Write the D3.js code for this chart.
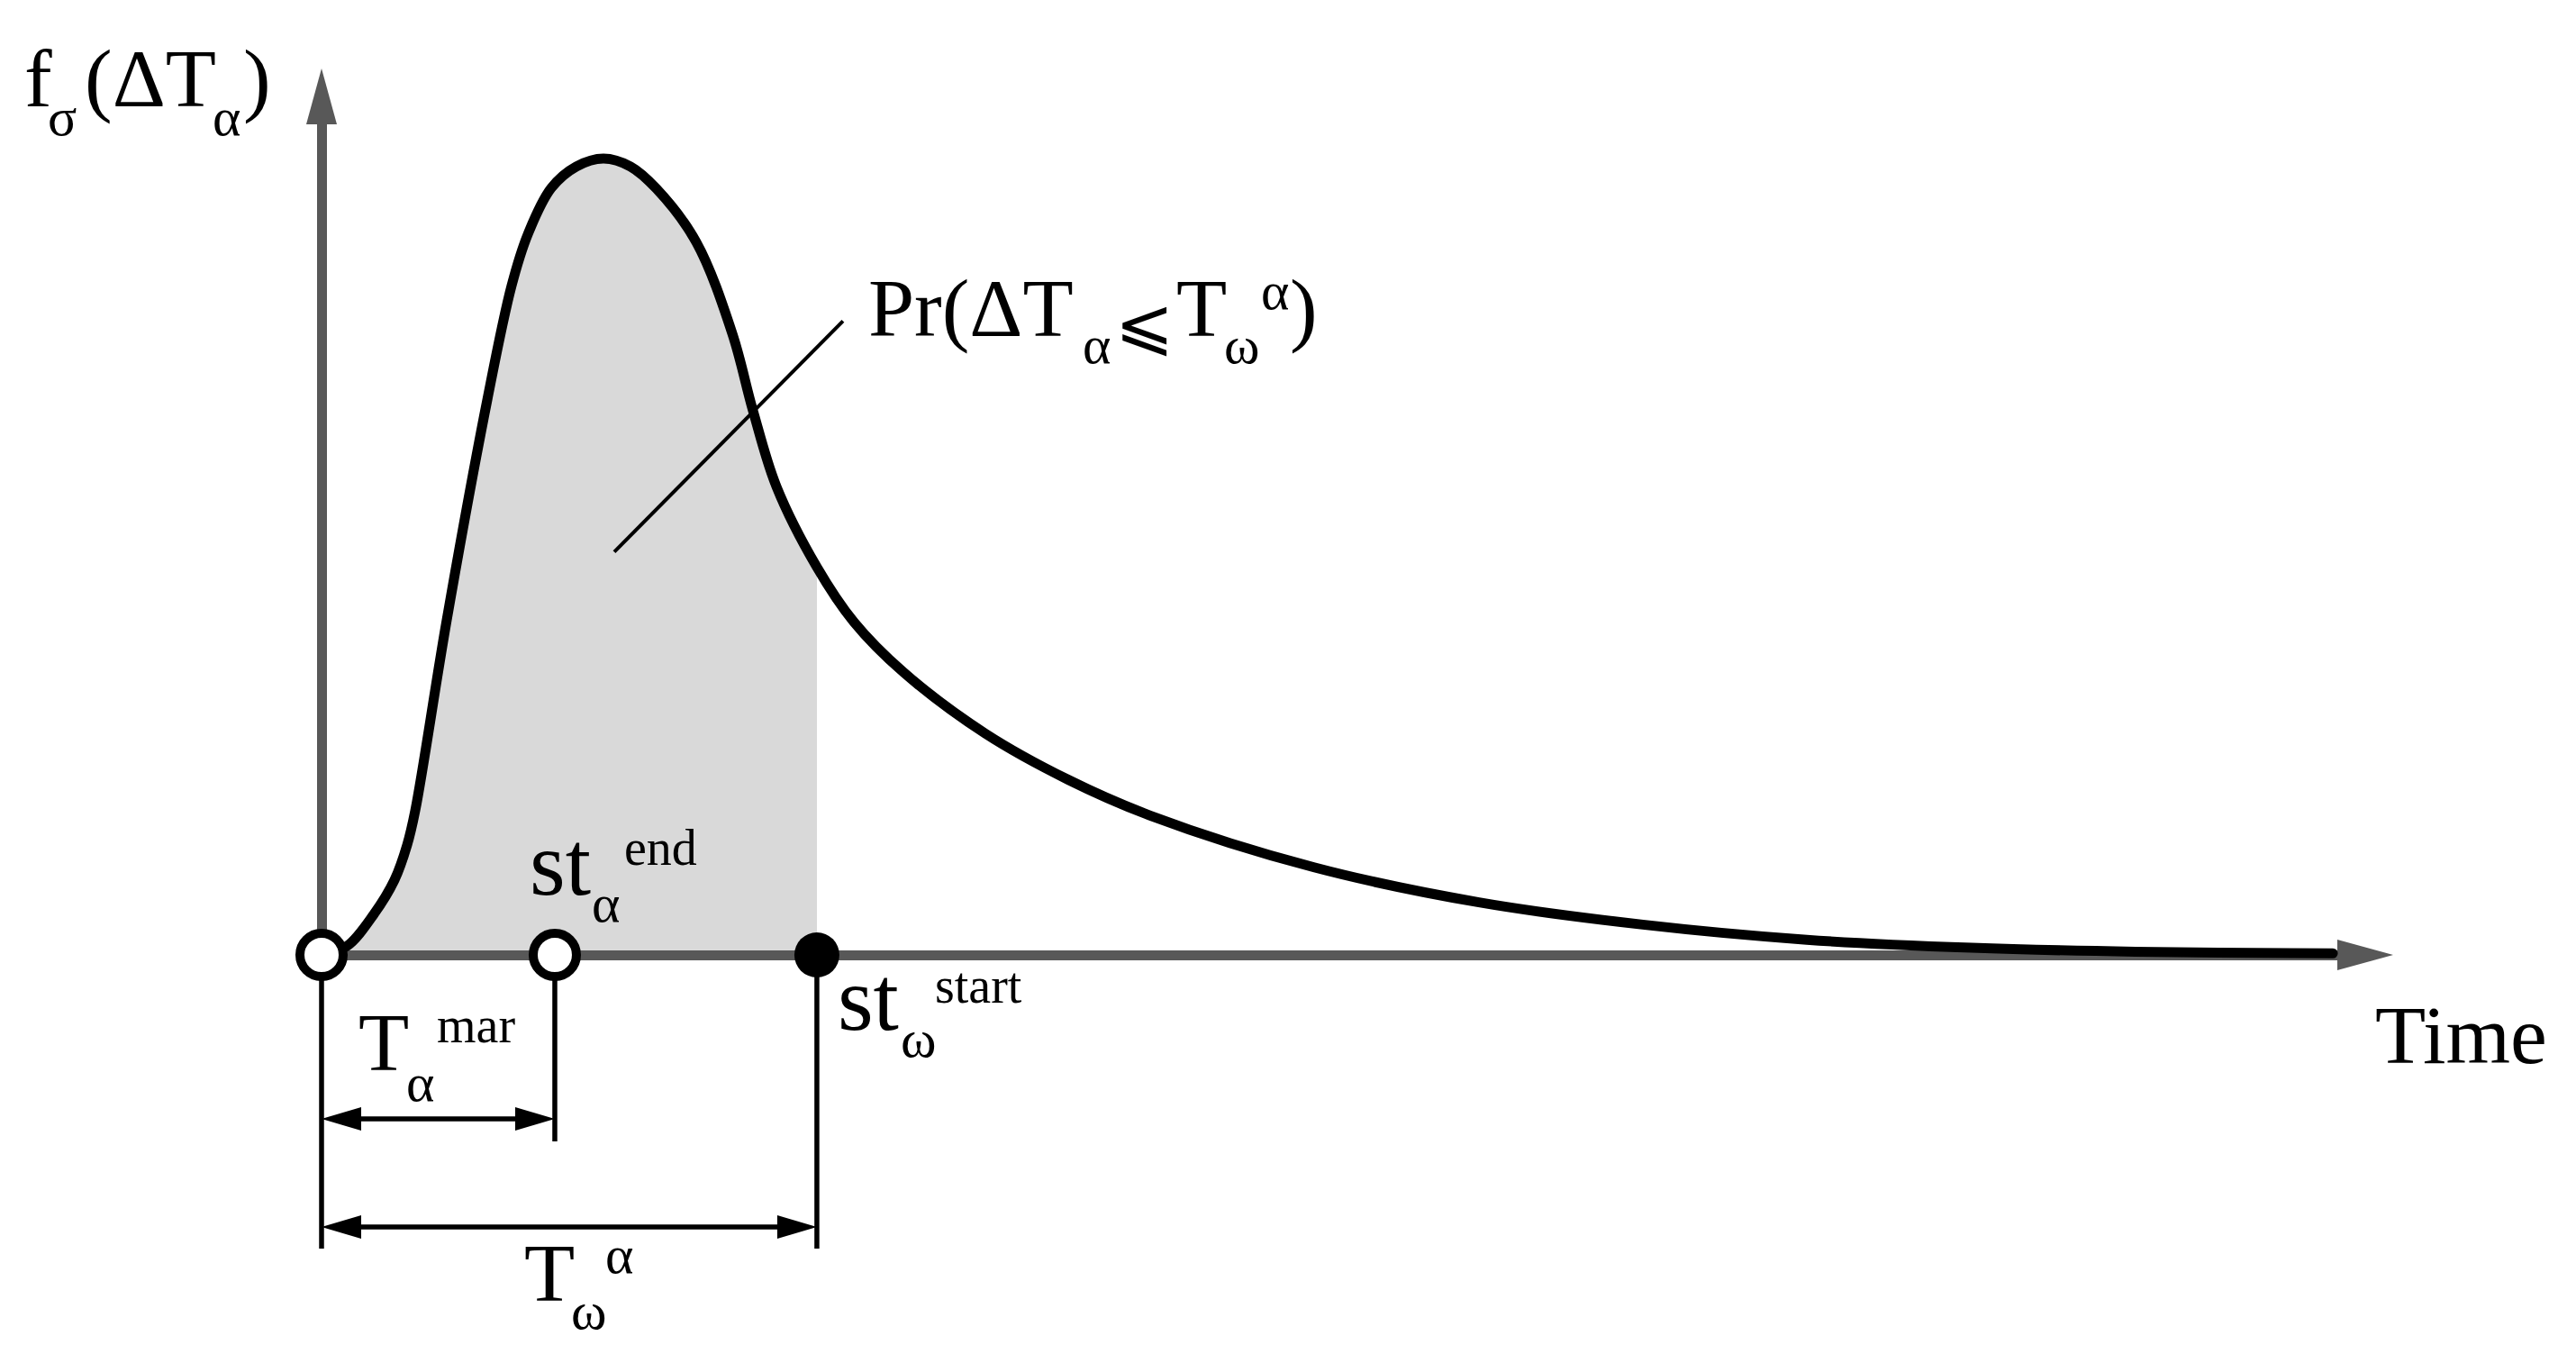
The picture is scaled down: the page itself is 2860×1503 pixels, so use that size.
<!DOCTYPE html>
<html>
<head>
<meta charset="utf-8">
<script src="https://cdn.jsdelivr.net/npm/d3@7"></script>
<style>
  html, body { margin: 0; padding: 0; background: #ffffff; }
  svg { display: block; }
  text { font-family: "Liberation Serif", "Times New Roman", serif; fill: #000; }
</style>
</head>
<body>
<svg id="chart" width="2860" height="1503"></svg>
<script>
// ---------- data ----------
// time in arbitrary units (0 = origin), density normalised so the peak = 1
const curveTime    = [0, 0.122, 0.252, 0.352, 0.413, 0.452, 0.604, 0.800, 0.917, 0.996, 1.109, 1.230, 1.361, 1.491, 1.617, 1.809, 1.983, 2.083, 2.196, 2.391, 2.570, 2.809, 3.204, 3.604, 4.000, 4.791, 5.587, 6.378, 7.170, 7.965, 8.757, 9.709];
const curveDensity = [0, 0.011, 0.051, 0.094, 0.138, 0.181, 0.420, 0.697, 0.840, 0.905, 0.963, 0.990, 1.000, 0.990, 0.962, 0.895, 0.780, 0.683, 0.588, 0.487, 0.418, 0.355, 0.278, 0.220, 0.175, 0.110, 0.066, 0.038, 0.019, 0.009, 0.004, 0.002];

// points on the time axis: origin, st_alpha^end, st_omega^start
const markerNames  = ["origin", "stAlphaEnd", "stOmegaStart"];
const markerTimes  = [0, 1.126, 2.391];
const markerFilled = [false, false, true];

// shaded probability area ends at st_omega^start
const shadeEndTime = 2.391;

// leader line for the Pr(...) label
const leaderTime    = [1.413, 2.517];
const leaderDensity = [0.506, 0.796];

// axis extents
const timeAxisEnd    = 10;
const densityAxisEnd = 1.113;

// ---------- layout ----------
const svg = d3.select("#chart");
const x = d3.scaleLinear().domain([0, timeAxisEnd]).range([357, 2657]);
const y = d3.scaleLinear().domain([0, 1]).range([1060, 176]);

const AXIS_COLOR = "#585858";
const points = curveTime.map((t, i) => ({ t, f: curveDensity[i] }));
const curveType = d3.curveCatmullRom.alpha(0.5);

// clip for shaded area
svg.append("defs").append("clipPath").attr("id", "shadeClip")
  .append("rect")
  .attr("x", x(0)).attr("y", 0)
  .attr("width", x(shadeEndTime) - x(0)).attr("height", y(0));

// shaded area
svg.append("path")
  .datum(points)
  .attr("clip-path", "url(#shadeClip)")
  .attr("fill", "#d9d9d9")
  .attr("d", d3.area().x(d => x(d.t)).y0(y(0)).y1(d => y(d.f)).curve(curveType));

// ---------- axes (d3 axes with no ticks, plus arrowheads) ----------
const arrowLen = 62, arrowHalf = 17;
const xAxisScale = x.copy().domain([0, timeAxisEnd]).range([x(0) - 5, x(timeAxisEnd) - arrowLen + 2]);
svg.append("g")
  .attr("transform", `translate(0,${y(0)})`)
  .call(d3.axisBottom(xAxisScale).tickValues([]).tickSizeOuter(0))
  .call(g => g.select(".domain").attr("stroke", AXIS_COLOR).attr("stroke-width", 11));
svg.append("path")
  .attr("fill", AXIS_COLOR)
  .attr("d", `M${x(timeAxisEnd)},${y(0)} L${x(timeAxisEnd) - arrowLen},${y(0) - arrowHalf} L${x(timeAxisEnd) - arrowLen},${y(0) + arrowHalf} Z`);

const yTop = y(densityAxisEnd);
const yAxisScale = y.copy().domain([0, densityAxisEnd]).range([y(0) + 5, yTop + arrowLen - 2]);
svg.append("g")
  .attr("transform", `translate(${x(0)},0)`)
  .call(d3.axisLeft(yAxisScale).tickValues([]).tickSizeOuter(0))
  .call(g => g.select(".domain").attr("stroke", AXIS_COLOR).attr("stroke-width", 11));
svg.append("path")
  .attr("fill", AXIS_COLOR)
  .attr("d", `M${x(0)},${yTop} L${x(0) - arrowHalf},${yTop + arrowLen} L${x(0) + arrowHalf},${yTop + arrowLen} Z`);

// ---------- density curve ----------
svg.append("path")
  .datum(points)
  .attr("fill", "none")
  .attr("stroke", "#000")
  .attr("stroke-width", 11)
  .attr("stroke-linejoin", "round")
  .attr("stroke-linecap", "round")
  .attr("d", d3.line().x(d => x(d.t)).y(d => y(d.f)).curve(curveType));

// leader line
svg.append("line")
  .attr("x1", x(leaderTime[0])).attr("y1", y(leaderDensity[0]))
  .attr("x2", x(leaderTime[1])).attr("y2", y(leaderDensity[1]))
  .attr("stroke", "#000").attr("stroke-width", 4);

// ---------- dimension lines ----------
const DIM_W = 5.5;
const extBottom = [1386, 1267, 1386];
markerTimes.forEach((t, i) => {
  svg.append("line")
    .attr("x1", x(t)).attr("x2", x(t))
    .attr("y1", y(0)).attr("y2", extBottom[i])
    .attr("stroke", "#000").attr("stroke-width", DIM_W);
});

function dimArrow(t0, t1, yy) {
  const a = x(t0), b = x(t1), L = 44, H = 13;
  svg.append("line").attr("x1", a + 10).attr("x2", b - 10).attr("y1", yy).attr("y2", yy)
    .attr("stroke", "#000").attr("stroke-width", 5.5);
  svg.append("path").attr("fill", "#000")
    .attr("d", `M${a},${yy} L${a + L},${yy - H} L${a + L},${yy + H} Z`);
  svg.append("path").attr("fill", "#000")
    .attr("d", `M${b},${yy} L${b - L},${yy - H} L${b - L},${yy + H} Z`);
}
dimArrow(markerTimes[0], markerTimes[1], 1242);
dimArrow(markerTimes[0], markerTimes[2], 1362);

// ---------- markers on the time axis ----------
svg.selectAll("circle.marker")
  .data(markerTimes.map((t, i) => ({ t, filled: markerFilled[i], name: markerNames[i] })))
  .join("circle")
  .attr("class", "marker")
  .attr("cx", d => x(d.t))
  .attr("cy", y(0))
  .attr("r", d => d.filled ? 25 : 24)
  .attr("fill", d => d.filled ? "#000" : "#fff")
  .attr("stroke", "#000")
  .attr("stroke-width", d => d.filled ? 0 : 10);

// ---------- text ----------
function txt(px, py, s, size, family) {
  const t = svg.append("text").attr("x", px).attr("y", py).attr("font-size", size).text(s);
  if (family) t.style("font-family", family);
  return t;
}
const BIG = 92, ST = 102, SUB = 60, SUP = 56;

// y-axis label f_sigma(ΔT_alpha)
txt(x(0) - 330, 118, "f", BIG);
txt(x(0) - 304, 150, "σ", SUB);
txt(x(0) - 263, 118, "(ΔT", BIG);
txt(x(0) - 121, 150, "α", SUB);
txt(x(0) - 87, 118, ")", BIG);

// Pr(ΔT_alpha ⩽ T_omega^alpha)
const prX = x(leaderTime[1]) + 28, prY = 373;
txt(prX, prY, "Pr(ΔT", BIG);
txt(prX + 238, prY + 30, "α", SUB);
txt(prX + 274, prY + 13, "⩽", 78, "DejaVu Serif, DejaVu Sans, serif");
txt(prX + 342, prY, "T", BIG);
txt(prX + 395, prY + 30, "ω", SUB);
txt(prX + 436, prY - 30, "α", SUB);
txt(prX + 468, prY, ")", BIG);

// st_alpha^end
const sa = x(markerTimes[1]);
txt(sa - 28, 993, "st", ST);
txt(sa + 41, 1023, "α", SUB);
txt(sa + 77, 960, "end", SUP);

// st_omega^start
const so = x(markerTimes[2]);
txt(so + 23, 1143, "st", ST);
txt(so + 93, 1173, "ω", SUB);
txt(so + 131, 1113, "start", SUP);

// T_alpha^mar
const o = x(markerTimes[0]);
txt(o + 41, 1188, "T", BIG);
txt(o + 94, 1222, "α", SUB);
txt(o + 128, 1157, "mar", SUP);

// T_omega^alpha
txt(o + 225, 1444, "T", BIG);
txt(o + 277, 1475, "ω", SUB);
txt(o + 315, 1413, "α", SUB);

// axis title
txt(x(timeAxisEnd) - 20, 1180, "Time", BIG);
</script>
</body>
</html>
